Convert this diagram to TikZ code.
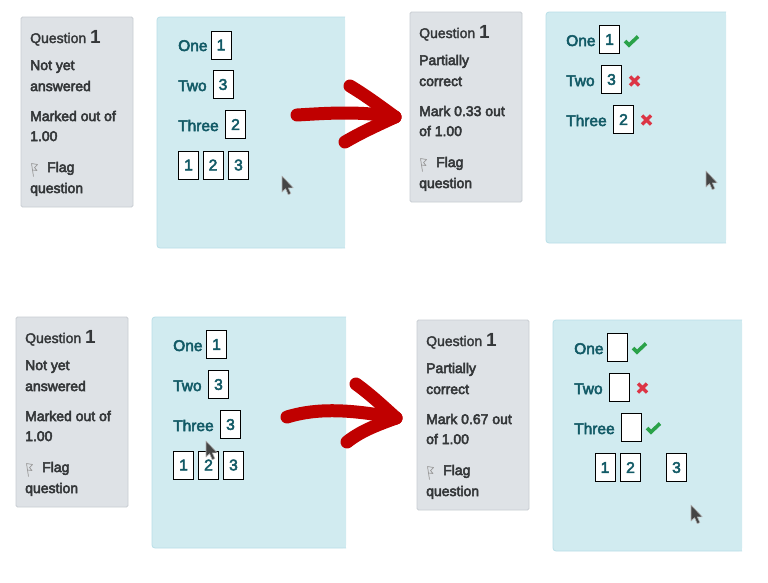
\documentclass[tikz,border=0pt]{standalone}
\usepackage{fontspec}
\newfontfamily\bodyf{Liberation Sans}
\newfontfamily\bignumf{Liberation Sans Bold}
\newcommand\medw[1]{\special{pdf:literal direct 2 Tr 0.5 w}#1\special{pdf:literal direct 0 Tr}}
\newcommand\semw[1]{\special{pdf:literal direct 2 Tr 0.3 w}#1\special{pdf:literal direct 0 Tr}}
\definecolor{greyfill}{HTML}{DEE2E6}
\definecolor{greyline}{HTML}{C9CED3}
\definecolor{bluefill}{HTML}{D1EBF0}
\definecolor{blueline}{HTML}{B9DFE8}
\definecolor{qteal}{HTML}{125A66}
\definecolor{qtext}{HTML}{343739}
\definecolor{okgreen}{HTML}{2AA249}
\definecolor{badred}{HTML}{DC3545}
\definecolor{penred}{HTML}{C00000}
\definecolor{curfill}{HTML}{454545}
\tikzset{
  greybox/.style={draw=greyline, fill=greyfill, line width=0.8, rounded corners=1.5},
  gtext/.style={anchor=base west, inner sep=0, text=qtext, font=\bodyf\fontsize{14}{16}\selectfont},
  btext/.style={anchor=base west, inner sep=0, text=qteal, font=\bodyf\fontsize{15.5}{18}\selectfont},
  numbox/.style={draw=black, fill=white, line width=1, minimum width=20, minimum height=28, inner sep=0, text=qteal, font=\bodyf\fontsize{15.5}{18}\selectfont},
  pen/.style={draw=penred, line width=13, line cap=round, line join=round},
  okstroke/.style={draw=okgreen, line width=3.6, line cap=butt, line join=miter},
  badstroke/.style={draw=badred, line width=3.4, line cap=butt},
  cursorshape/.style={fill=curfill, draw=gray!60, line width=0.6, line join=round},
  flagicon/.style={draw=gray!80, line width=0.7, line join=round}
}
\newcommand\qinfo[7]{%
  \begin{scope}[shift={(#2,#3)}]
    \draw[greybox] (0,0) rectangle (112,190);
    \node[gtext] (#1-q) at (9,26) {\semw{Question} {\bignumf\fontsize{19}{20}\selectfont 1}};
    \node[gtext] (#1-a) at (9,53) {\medw{#4}};
    \node[gtext] (#1-b) at (9,74) {\medw{#5}};
    \node[gtext] (#1-c) at (9,104) {\medw{#6}};
    \node[gtext] (#1-d) at (9,124) {\medw{#7}};
    \draw[flagicon] (10.5,146.5) -- (12.5,159.5);
    \draw[flagicon] (10.5,146.5) -- (16.5,147.5) -- (13.5,150.5) -- (16,153.5) -- (11.3,153);
    \node[gtext] (#1-f) at (26,155) {\medw{Flag}};
    \node[gtext] (#1-g) at (9,176) {\medw{question}};
  \end{scope}}
\newcommand\qpanel[4]{%
  \fill[bluefill, rounded corners=3] (#1,#2) rectangle (#3,#4);
  \fill[bluefill] (#1+10,#2) rectangle (#3,#4);
  \draw[blueline, line width=0.8, rounded corners=3] (#3,#2) -- (#1,#2) -- (#1,#4) -- (#3,#4);}
\newcommand\qcursor[2]{%
  \draw[cursorshape, shift={(#1,#2)}] (0,0) -- (0,16) -- (3.6,12.6) -- (6.2,18.6) -- (8.8,17.6) -- (6.3,11.8) -- (11.2,11.8) -- cycle;}
\newcommand\okmark[2]{%
  \draw[okstroke, shift={(#1,#2)}] (-7,0) -- (-3,4) -- (6,-4.5);}
\newcommand\badmark[2]{%
  \draw[badstroke, shift={(#1,#2)}] (-4.5,-4.5) -- (4.5,4.5) (-4.5,4.5) -- (4.5,-4.5);}
\begin{document}
\begin{tikzpicture}[x=1pt,y=-1pt]
\useasboundingbox[fill=white] (0,0) rectangle (768,582);

% ---------- top row ----------
\qinfo{tlq}{21}{17}{Not yet}{answered}{Marked out of}{1.00}
\qpanel{157}{17}{345}{248}
\node[btext] (tl-one) at (178,51) {\medw{One}};
\node[btext] (tl-two) at (178,91) {\medw{Two}};
\node[btext] (tl-three) at (178,131) {\medw{Three}};
\node[numbox] (tl-b1) at (221,45) {\medw{1}};
\node[numbox] (tl-b2) at (223,84.5) {\medw{3}};
\node[numbox] (tl-b3) at (235.5,124.5) {\medw{2}};
\node[numbox] (tl-r1) at (188.5,165) {\medw{1}};
\node[numbox] (tl-r2) at (213,165) {\medw{2}};
\node[numbox] (tl-r3) at (238.5,165) {\medw{3}};
\qcursor{282}{176}

\qinfo{trq}{410}{12}{Partially}{correct}{Mark 0.33 out}{of 1.00}
\qpanel{546}{12}{726}{243}
\node[btext] (tr-one) at (566,46) {\medw{One}};
\node[btext] (tr-two) at (566,86) {\medw{Two}};
\node[btext] (tr-three) at (566,126) {\medw{Three}};
\node[numbox] (tr-b1) at (609.5,39.5) {\medw{1}};
\node[numbox] (tr-b2) at (611.5,79.5) {\medw{3}};
\node[numbox] (tr-b3) at (623.5,119.5) {\medw{2}};
\okmark{632}{41}
\badmark{634.5}{81}
\badmark{646.5}{120}
\qcursor{706}{171}

% top arrow
\draw[pen] (297,115) .. controls (330,113) and (360,111) .. (395,117);
\draw[pen] (350,86) .. controls (365,95) and (380,106) .. (395,117);
\draw[pen] (345,142) .. controls (362,132) and (380,124) .. (395,117);

% ---------- bottom row ----------
\qinfo{blq}{16}{317}{Not yet}{answered}{Marked out of}{1.00}
\qpanel{152}{317}{346}{548}
\node[btext] (bl-one) at (173,351) {\medw{One}};
\node[btext] (bl-two) at (173,391) {\medw{Two}};
\node[btext] (bl-three) at (173,431) {\medw{Three}};
\node[numbox] (bl-b1) at (216.5,344.5) {\medw{1}};
\node[numbox] (bl-b2) at (218.5,384.5) {\medw{3}};
\node[numbox] (bl-b3) at (230.5,424.5) {\medw{3}};
\node[numbox] (bl-r1) at (183.5,465) {\medw{1}};
\node[numbox] (bl-r2) at (208.5,465) {\medw{2}};
\node[numbox] (bl-r3) at (233.5,465) {\medw{3}};
\qcursor{206}{441}

\qinfo{brq}{417}{320}{Partially}{correct}{Mark 0.67 out}{of 1.00}
\qpanel{553}{320}{742}{551}
\node[btext] (br-one) at (574,354) {\medw{One}};
\node[btext] (br-two) at (574,394) {\medw{Two}};
\node[btext] (br-three) at (574,434) {\medw{Three}};
\node[numbox] (br-b1) at (617.5,347.5) {};
\node[numbox] (br-b2) at (619.5,387.5) {};
\node[numbox] (br-b3) at (631.5,427.5) {};
\node[numbox] (br-r1) at (605,467.5) {\medw{1}};
\node[numbox] (br-r2) at (630.5,467.5) {\medw{2}};
\node[numbox] (br-r3) at (676.5,467.5) {\medw{3}};
\okmark{640}{348}
\badmark{642.5}{388}
\okmark{654}{428}
\qcursor{691}{505}

% bottom arrow
\draw[pen] (287,417) .. controls (310,410) and (340,407) .. (396,418);
\draw[pen] (356,384) .. controls (370,394) and (385,408) .. (396,418);
\draw[pen] (347,442) .. controls (362,430) and (380,424) .. (396,418);
\end{tikzpicture}
\end{document}
